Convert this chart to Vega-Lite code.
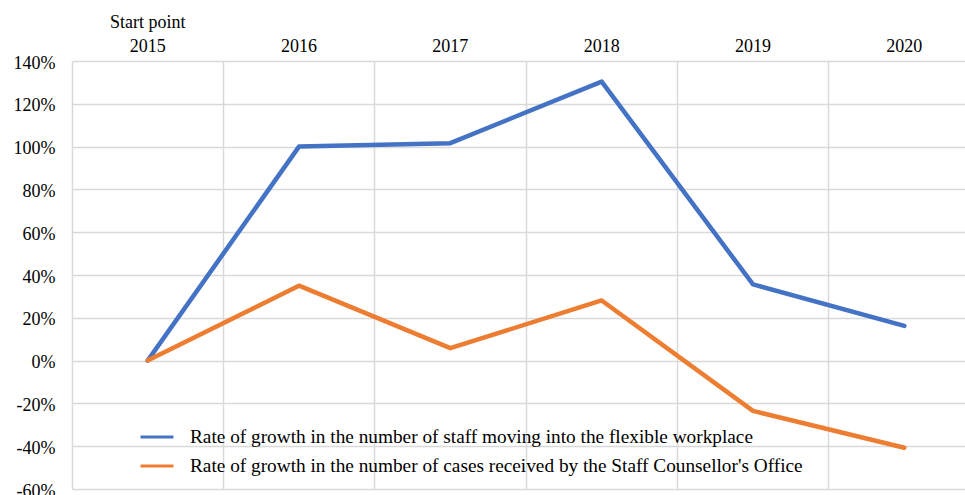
{
  "$schema": "https://vega.github.io/schema/vega-lite/v6.json",
  "width": 893,
  "height": 428,
  "autosize": {"type": "none"},
  "padding": {"left": 72, "top": 61, "right": 0, "bottom": 6},
  "background": "white",
  "config": {"view": {"stroke": null}, "font": "Liberation Serif"},
  "data": {
    "values": [
      {"year": "2015", "series": "Rate of growth in the number of staff moving into the flexible workplace", "value": 0},
      {"year": "2016", "series": "Rate of growth in the number of staff moving into the flexible workplace", "value": 100},
      {"year": "2017", "series": "Rate of growth in the number of staff moving into the flexible workplace", "value": 101.6},
      {"year": "2018", "series": "Rate of growth in the number of staff moving into the flexible workplace", "value": 130.4},
      {"year": "2019", "series": "Rate of growth in the number of staff moving into the flexible workplace", "value": 35.6},
      {"year": "2020", "series": "Rate of growth in the number of staff moving into the flexible workplace", "value": 16.2},
      {"year": "2015", "series": "Rate of growth in the number of cases received by the Staff Counsellor's Office", "value": 0},
      {"year": "2016", "series": "Rate of growth in the number of cases received by the Staff Counsellor's Office", "value": 35},
      {"year": "2017", "series": "Rate of growth in the number of cases received by the Staff Counsellor's Office", "value": 5.8},
      {"year": "2018", "series": "Rate of growth in the number of cases received by the Staff Counsellor's Office", "value": 28.1},
      {"year": "2019", "series": "Rate of growth in the number of cases received by the Staff Counsellor's Office", "value": -23.5},
      {"year": "2020", "series": "Rate of growth in the number of cases received by the Staff Counsellor's Office", "value": -40.7}
    ]
  },
  "mark": {"type": "line", "strokeWidth": 4.5, "strokeJoin": "round", "strokeCap": "round"},
  "encoding": {
    "x": {
      "field": "year",
      "type": "ordinal",
      "sort": null,
      "scale": {"type": "band", "paddingInner": 0, "paddingOuter": 0, "range": [0, 908]},
      "axis": {
        "orient": "top",
        "title": null,
        "domain": false,
        "ticks": false,
        "grid": true,
        "gridColor": "#d9d9d9",
        "gridWidth": 1.5,
        "bandPosition": 0,
        "labelOffset": 0,
        "labelAngle": 0,
        "labelAlign": "center",
        "labelBaseline": "bottom",
        "labelPadding": 30,
        "labelFont": "Liberation Serif",
        "labelFontSize": 18,
        "labelColor": "black",
        "labelLineHeight": 24,
        "labelExpr": "datum.value == '2015' ? ['Start point', '2015'] : ['', datum.value]"
      }
    },
    "y": {
      "field": "value",
      "type": "quantitative",
      "scale": {"domain": [-60, 140], "nice": false, "zero": false},
      "axis": {
        "title": null,
        "domain": false,
        "ticks": false,
        "grid": true,
        "gridColor": "#d9d9d9",
        "gridWidth": 1.5,
        "values": [-60, -40, -20, 0, 20, 40, 60, 80, 100, 120, 140],
        "labelExpr": "datum.value + '%'",
        "labelFont": "Liberation Serif",
        "labelFontSize": 18,
        "labelColor": "black",
        "labelPadding": 17,
        "labelOffset": 2
      }
    },
    "color": {
      "field": "series",
      "type": "nominal",
      "sort": null,
      "scale": {
        "domain": [
          "Rate of growth in the number of staff moving into the flexible workplace",
          "Rate of growth in the number of cases received by the Staff Counsellor's Office"
        ],
        "range": ["#4472C4", "#ED7D31"]
      },
      "legend": {
        "orient": "none",
        "legendX": 75,
        "legendY": 366,
        "title": null,
        "padding": 0,
        "labelFont": "Liberation Serif",
        "labelFontSize": 19.3,
        "labelColor": "black",
        "labelLimit": 0,
        "symbolType": "M-2,0H2",
        "symbolSize": 272,
        "symbolStrokeWidth": 3,
        "labelOffset": 23,
        "rowPadding": 8,
        "encode": {
          "symbols": {
            "update": {
              "stroke": {"signal": "datum.index == 1 ? '#C55A11' : '#4472C4'"}
            }
          }
        }
      }
    }
  }
}
